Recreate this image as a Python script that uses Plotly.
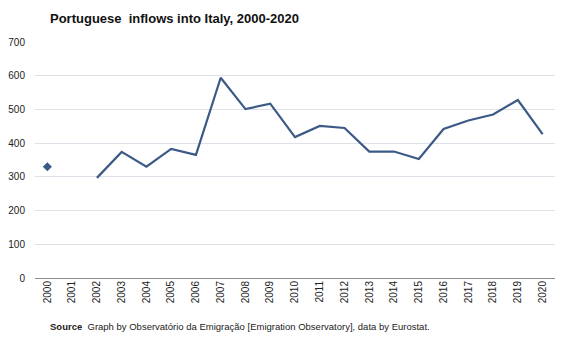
import plotly.graph_objects as go

years = [str(y) for y in range(2000, 2021)]
inflows = [330, None, 297, 374, 330, 383, 365, 594, 501, 517, 418, 451, 445, 375, 375, 353, 442, 467, 485, 528, 427]
y_ticks = [0, 100, 200, 300, 400, 500, 600, 700]

# show a marker only for isolated points (no neighbour to draw a line to)
sizes = []
for i, v in enumerate(inflows):
    prev_v = inflows[i - 1] if i > 0 else None
    next_v = inflows[i + 1] if i < len(inflows) - 1 else None
    sizes.append(7 if (v is not None and prev_v is None and next_v is None) else 0)

color = "#3c5a86"
fig = go.Figure()
fig.add_trace(go.Scatter(
    x=years, y=inflows, mode="lines+markers", connectgaps=False,
    line=dict(color=color, width=2.2),
    marker=dict(symbol="diamond", size=sizes, color=color, opacity=1, line=dict(width=0)),
    hoverinfo="x+y", showlegend=False,
))

font = "Liberation Sans, Arial, sans-serif"
fig.update_layout(
    width=567, height=340,
    margin=dict(l=35, r=12, t=42, b=62),
    paper_bgcolor="white", plot_bgcolor="white",
    font=dict(family=font, size=10, color="#222222"),
    title=dict(text="<b>Portuguese  inflows into Italy, 2000-2020</b>",
               x=50 / 567, xanchor="left", y=1 - 18 / 340, yanchor="middle",
               font=dict(family=font, size=13, color="#111111")),
    xaxis=dict(type="category", tickangle=-90, showgrid=False, ticks="",
               showline=False, zeroline=False, tickfont=dict(size=10, color="#222222"),
               range=[-0.5, 20.5], automargin=False),
    yaxis=dict(range=[0, 700], tickvals=y_ticks, showgrid=True, gridcolor="#dde1e8",
               gridwidth=1, zeroline=True, zerolinecolor="#8c8c8c", zerolinewidth=1,
               ticks="", tickfont=dict(size=10, color="#222222"), ticklabelstandoff=9,
               automargin=False),
    annotations=[dict(text="<b>Source</b>  Graph by Observatório da Emigração [Emigration Observatory], data by Eurostat.",
                      xref="paper", yref="paper", x=(48 - 35) / 520, xanchor="left",
                      y=-(326 - 278) / 236, yanchor="middle", showarrow=False,
                      font=dict(family=font, size=9.5, color="#222222"))],
)

fig.write_html("out.html")
